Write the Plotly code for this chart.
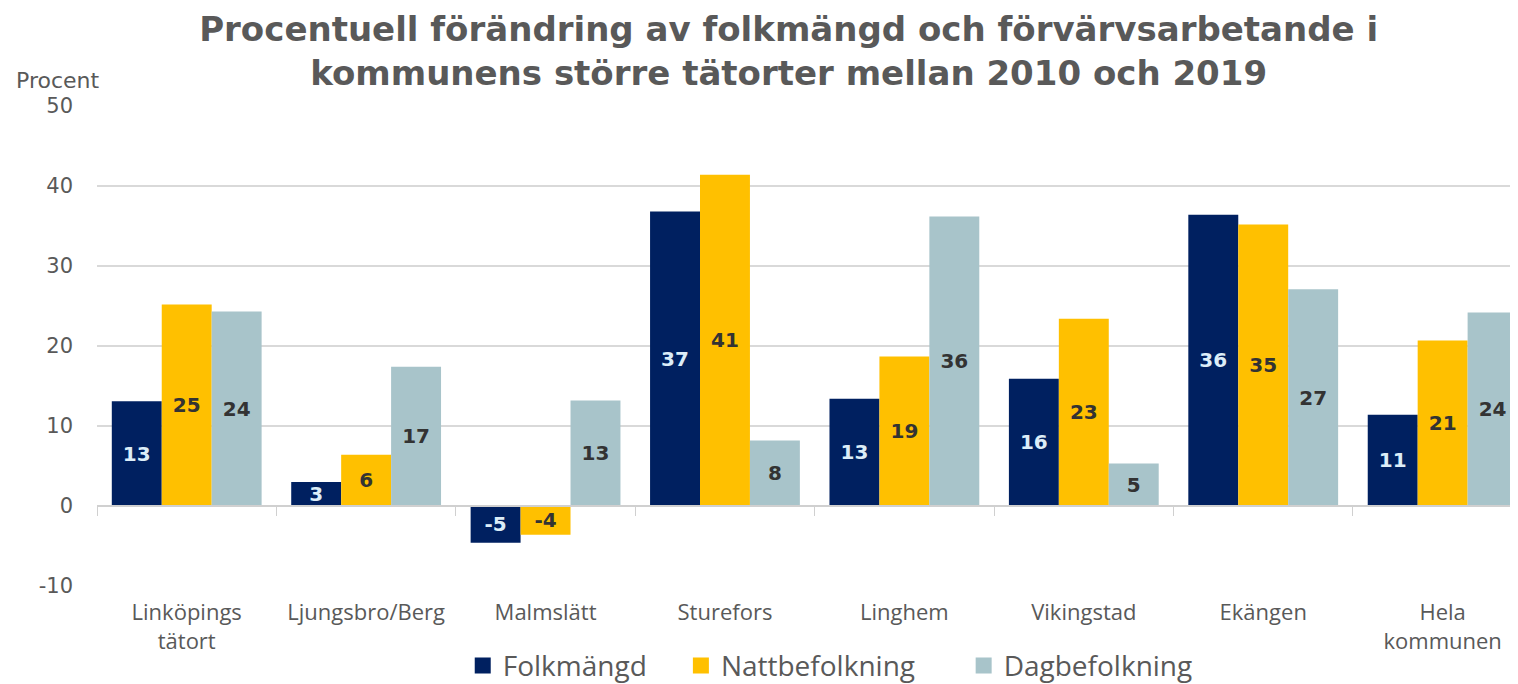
import plotly.graph_objects as go

categories = ["Linköpings<br>tätort", "Ljungsbro/Berg", "Malmslätt", "Sturefors",
              "Linghem", "Vikingstad", "Ekängen", "Hela<br>kommunen"]
folkmangd = [13.1, 3.0, -4.6, 36.8, 13.4, 15.9, 36.4, 11.4]
nattbefolkning = [25.2, 6.4, -3.6, 41.4, 18.7, 23.4, 35.2, 20.7]
dagbefolkning = [24.3, 17.4, 13.2, 8.2, 36.2, 5.3, 27.1, 24.2]
series_names = ["Folkmängd", "Nattbefolkning", "Dagbefolkning"]
series_values = [folkmangd, nattbefolkning, dagbefolkning]
series_colors = ["#002060", "#ffc000", "#a8c4ca"]
label_colors = ["#dcedf8", "#333333", "#333333"]
y_ticks = [-10, 0, 10, 20, 30, 40, 50]
y_ticktext = ["-10", "0", "10", "20", "30", "40", "50"]

NB = "\u00a0"
legend_pad = [NB * 4, NB * 6, ""]

fig = go.Figure()
for name, vals, color, tcolor, pad in zip(series_names, series_values,
                                          series_colors, label_colors, legend_pad):
    fig.add_trace(go.Bar(
        name=name, x=categories, y=vals,
        marker=dict(color=color, line=dict(width=0)),
        text=[f"{round(v):.0f}" for v in vals],
        textposition="inside", insidetextanchor="middle",
        textangle=0,
        textfont=dict(family="DejaVu Sans", size=20, color=tcolor, weight="bold"),
        showlegend=False, cliponaxis=False,
    ))
    # legend proxy
    fig.add_trace(go.Scatter(
        name=name + pad, x=[categories[0]], y=[None], mode="markers",
        marker=dict(symbol="square", size=19, color=color),
        showlegend=True, hoverinfo="skip",
    ))

# helper trace for the zero-line axis with boundary ticks
fig.add_trace(go.Scatter(x=categories, y=[0] * len(categories), mode="markers",
                         marker=dict(opacity=0), xaxis="x2", showlegend=False,
                         hoverinfo="skip"))

fig.update_layout(
    width=1510, height=676,
    paper_bgcolor="white", plot_bgcolor="white",
    margin=dict(l=89, r=0, t=98, b=98, autoexpand=False),
    barmode="group", bargap=0.165, bargroupgap=0,
    uniformtext=dict(minsize=20, mode="show"),
    title=dict(
        text="Procentuell förändring av folkmängd och förvärvsarbetande i<br>kommunens större tätorter mellan 2010 och 2019",
        font=dict(family="DejaVu Sans", size=34, color="#595959", weight="bold"),
        x=0.517, xref="container", xanchor="center",
        y=0.951, yref="container", yanchor="middle",
    ),
    xaxis=dict(
        type="category", range=[-0.5, 7.42],
        showgrid=False, showline=False, ticks="",
        tickfont=dict(family="Open Sans", size=22, color="#595959"),
        ticklabelstandoff=11,
    ),
    xaxis2=dict(
        type="category", overlaying="x", matches="x", anchor="free",
        position=10 / 60, side="bottom",
        showgrid=False, showline=True, linecolor="#d0d0d0", linewidth=1.5,
        ticks="outside", tickson="boundaries", ticklen=9, tickcolor="#d0d0d0",
        showticklabels=False,
    ),
    yaxis=dict(
        range=[-10, 50], tickvals=y_ticks, ticktext=y_ticktext,
        showgrid=True, gridcolor="#d9d9d9", gridwidth=1.5,
        zeroline=False, showline=False,
        tickfont=dict(family="DejaVu Sans", size=21, color="#595959"),
        ticklabelstandoff=23,
    ),
    legend=dict(
        orientation="h", x=0.516, xanchor="center", y=-0.166, yanchor="middle",
        font=dict(family="Open Sans", size=28, color="#595959"),
        itemsizing="trace", tracegroupgap=0,
    ),
    annotations=[dict(
        text="Procent", xref="paper", yref="paper", x=-0.0275, y=1.054,
        xanchor="center", yanchor="middle", showarrow=False,
        font=dict(family="DejaVu Sans", size=22, color="#595959"),
    )],
)

fig.write_html("out.html")
